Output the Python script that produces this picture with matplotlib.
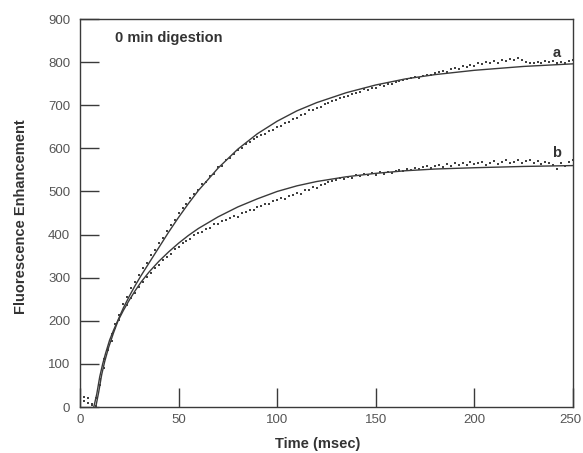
import numpy as np
import matplotlib
matplotlib.use("Agg")
import matplotlib.pyplot as plt
from matplotlib.transforms import ScaledTranslation

plt.rcParams['font.family'] = ['Liberation Sans', 'DejaVu Sans']

# fitted curves
fit_a_t = [7, 8.5, 10, 11.5, 13, 15, 17, 19.3, 22, 25, 28, 31, 35, 40, 45, 50, 55, 60, 70, 80,
           90, 100, 110, 120, 135, 150, 165, 180, 200, 225, 250]
fit_a_v = [0, 30, 70, 100, 125, 155, 178, 202, 230, 257, 282, 305, 334, 370, 406, 440, 472, 502, 554, 598,
           634, 663, 687, 706, 729, 747, 761, 771, 781, 790, 796]

fit_b_t = [8, 9.5, 11, 12.5, 14.5, 17, 19.3, 22, 25, 28, 31, 35, 40, 45, 50, 55, 60, 70, 80,
           90, 100, 110, 120, 135, 150, 165, 180, 200, 225, 250]
fit_b_v = [0, 35, 75, 105, 138, 172, 200, 224, 248, 270, 290, 313, 338, 360, 380, 398, 414, 441, 464,
           483, 500, 513, 523, 534, 542, 548, 552, 555, 558, 560]

# measured traces, one point every 2 msec
time = np.arange(0, 251, 2)
data_a = [18, 24, 10, 6, 22, 66, 112, 138, 170, 192, 214, 238, 256, 275, 290, 306, 322, 334, 352, 364,
          381, 392, 409, 423, 434, 449, 461, 472, 484, 494, 503, 517, 521, 536, 541, 556, 560, 573, 578, 586,
          596, 601, 610, 614, 622, 626, 630, 634, 640, 642, 650, 652, 658, 660, 668, 670, 677, 680, 688, 688,
          694, 697, 702, 704, 710, 712, 716, 720, 721, 727, 729, 731, 737, 735, 741, 741, 747, 745, 750, 749,
          754, 756, 758, 761, 762, 766, 764, 768, 771, 770, 774, 776, 779, 778, 784, 786, 784, 790, 788, 793,
          791, 797, 795, 800, 798, 802, 799, 804, 803, 807, 805, 809, 806, 801, 797, 799, 801, 798, 803, 800,
          802, 798, 801, 797, 803, 805]
data_b = [8, 15, 20, 4, 2, 52, 90, 133, 152, 183, 202, 226, 236, 252, 264, 279, 290, 302, 310, 322,
          330, 340, 349, 356, 366, 371, 380, 386, 390, 398, 403, 406, 414, 416, 424, 425, 432, 434, 438, 443,
          441, 450, 452, 458, 456, 464, 466, 472, 470, 478, 480, 484, 482, 490, 492, 497, 495, 503, 504, 510,
          509, 516, 518, 522, 524, 527, 531, 528, 534, 532, 537, 535, 540, 537, 542, 539, 544, 541, 546, 543,
          548, 550, 547, 553, 550, 555, 552, 557, 560, 555, 559, 562, 557, 563, 560, 566, 561, 565, 562, 568,
          563, 566, 569, 562, 567, 571, 564, 568, 572, 565, 569, 573, 566, 570, 574, 567, 571, 564, 569, 566,
          561, 552, 565, 560, 568, 572]

fig = plt.figure(figsize=(5.83, 4.53), dpi=100)
ax = fig.add_axes([80 / 583, 1 - 407 / 453, 493 / 583, 388 / 453])

ink = '#3a3a3a'
ax.plot(fit_a_t, fit_a_v, color=ink, lw=1.0)
ax.plot(fit_b_t, fit_b_v, color=ink, lw=1.0)
ax.plot(time, data_a, 's', color='#404040', ms=2.1, mew=0)
ax.plot(time, data_b, 's', color='#404040', ms=2.1, mew=0)

ax.set_xlim(0, 250)
ax.set_ylim(0, 900)
ax.set_xticks([0, 50, 100, 150, 200, 250])
ax.set_yticks(range(0, 901, 100))
ax.tick_params(direction='in', length=14, width=1, colors=ink, labelcolor='#555555',
               labelsize=9.5, top=False, right=False)
ax.tick_params(axis='y', pad=7)
ax.tick_params(axis='x', pad=5)
# keep the last x label inside the picture
last = ax.get_xticklabels()[-1]
last.set_transform(last.get_transform() + ScaledTranslation(-3 / 100, 0, fig.dpi_scale_trans))
for s in ax.spines.values():
    s.set_color(ink)
    s.set_linewidth(1.0)

ax.set_xlabel('Time (msec)', fontsize=10.5, fontweight='bold', color='#333333')
ax.set_ylabel('Fluorescence Enhancement', fontsize=10.5, fontweight='bold', color='#333333')
ax.xaxis.set_label_coords(0.483, -0.077)
ax.yaxis.set_label_coords(-0.106, 0.49)

ax.text(17.5, 857, '0 min digestion', fontsize=10.5, fontweight='bold', color='#333333', va='center')
ax.text(241.7, 822, 'a', fontsize=10.5, fontweight='bold', color='#333333', va='center', ha='center')
ax.text(241.7, 589, 'b', fontsize=10.5, fontweight='bold', color='#333333', va='center', ha='center')

fig.savefig('out.png', dpi=100)
